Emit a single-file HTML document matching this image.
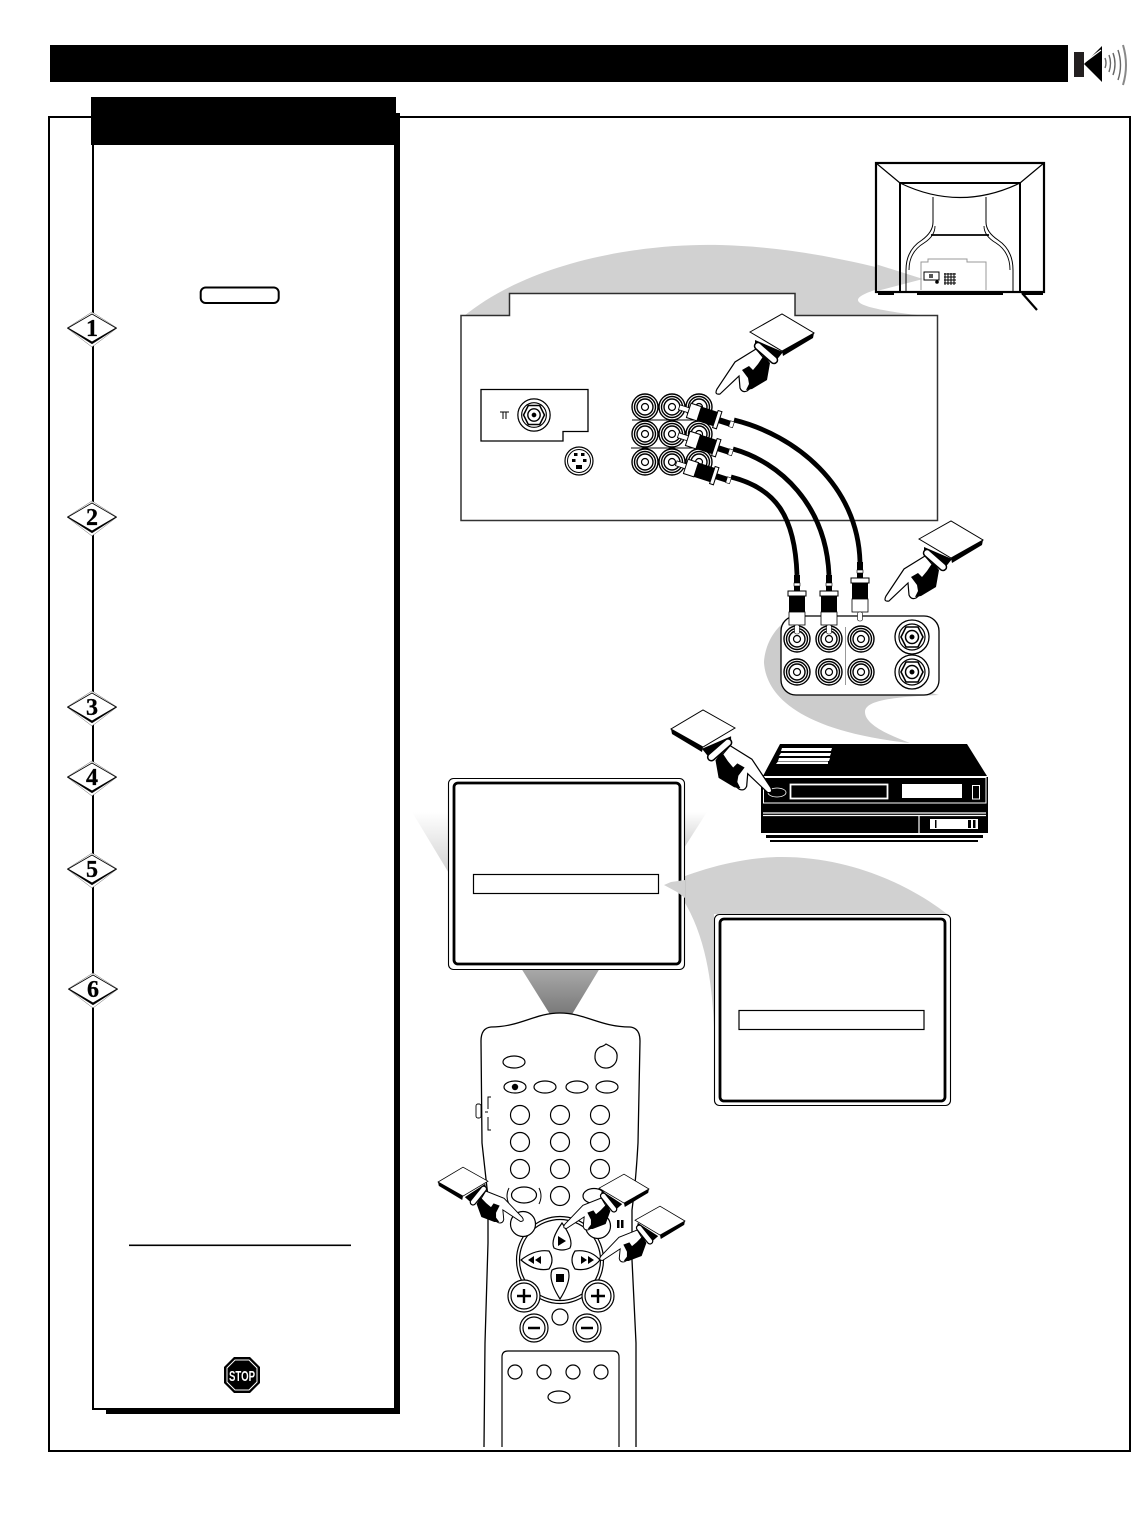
<!DOCTYPE html>
<html><head><meta charset="utf-8"><style>html,body{margin:0;padding:0;background:#fff}svg{display:block}</style></head><body>
<svg xmlns="http://www.w3.org/2000/svg" width="1134" height="1537" viewBox="0 0 1134 1537">
<defs>
<linearGradient id="g1" x1="0" y1="0" x2="0" y2="1"><stop offset="0" stop-color="#fff"/><stop offset="1" stop-color="#d0d0d0"/></linearGradient>
<linearGradient id="g2" x1="0" y1="0" x2="0" y2="1"><stop offset="0" stop-color="#aaa"/><stop offset="1" stop-color="#777"/></linearGradient>
<g id="card"><path d="M0 18L32 0L31 5L1 23Z" fill="#000"/><path d="M-32-1L0-19L32 0L0 18Z" fill="#fff" stroke="#000" stroke-width="1"/></g>
<g id="hand">
<path d="M-27 7L1 19L-7 29L-27 14Z" fill="#000"/>
<path d="M-26 16L-47 29L-65 56Q-68 62-62 61L-43 43L-42 55Q-40 60-35 58L-20 46L-14 30Z" fill="#fff" stroke="#000" stroke-width="1.200"/>
<path d="M-18 22L-12 30L-15 47L-30 56L-36 57L-33 51L-34 45L-40 37L-33 33L-29 37L-24 31Z" fill="#000"/>
<path d="M-24 13L-8 27" stroke="#000" stroke-width="8.500" stroke-linecap="round"/>
<path d="M-24 13L-8 27" stroke="#fff" stroke-width="5.500" stroke-linecap="round"/>
</g>
<g id="rca" fill="#fff" stroke="#000"><circle r="13" stroke-width="1.400"/><circle r="10.500" stroke-width="1.400"/><circle r="8" stroke-width="1.400"/><circle r="3.500" stroke-width="1.200"/></g>
<g id="coax" fill="#fff" stroke="#000"><circle r="17" stroke-width="1.300"/><circle r="13" stroke-width="1.200"/><path d="M-11 0L-6-10H6L11 0L6 10H-6Z" stroke-width="1.600"/><circle r="6.500" stroke-width="1.500"/><circle r="2" fill="#000"/></g>
<g id="vplug"><rect x="-3" y="-17" width="6" height="17" fill="#000"/><rect x="-3" y="-9" width="6" height="3" fill="#fff" stroke="#000" stroke-width=".6"/><rect x="-9" y="-1" width="18" height="5" fill="#fff" stroke="#000"/><rect x="-8" y="4" width="16" height="16" fill="#000"/><rect x="-8" y="20" width="16" height="13" fill="#fff" stroke="#000" stroke-width=".8"/><rect x="-2.500" y="33" width="5" height="9" rx="2" fill="#fff" stroke="#000" stroke-width=".6"/></g>
<g id="dplug"><rect x="-25" y="-2.500" width="11" height="5" fill="#fff" stroke="#000" stroke-width=".8"/><rect x="-15" y="-7.500" width="11" height="15" fill="#fff" stroke="#000"/><rect x="-4" y="-7.500" width="17" height="15" fill="#000"/><rect x="13" y="-9" width="4" height="18" fill="#fff" stroke="#000"/><rect x="17" y="-3" width="11" height="6" fill="#000"/><rect x="28" y="-3" width="4" height="6" fill="#fff" stroke="#000" stroke-width=".6"/></g>
<g id="dia"><path d="M92 312L117 328L92 347L67 328Z" fill="#fff"/><path d="M67 328L92 344L117 328L92 340Z" fill="#000"/><path d="M68 328L92 314L116 328L92 342Z" fill="#fff" stroke="#000" stroke-width=".8"/></g>
</defs>

<rect x="50" y="45" width="1018" height="37" fill="#000"/>
<rect x="1074" y="52" width="10" height="25" fill="#231f20"/>
<path d="M1084 64L1102 46V82Z" fill="#000"/>
<path d="M1085 62L1101 50" stroke="#fff" stroke-width="1.200"/>
<g fill="none" stroke="#666" stroke-width="1.400"><path d="M1105 58q2 5 0 10"/><path d="M1109 55q3 8 0 17"/><path d="M1113 53q4 11 0 22"/><path d="M1118 50q5 15 0 30"/></g>
<path d="M1123 45q6 20 0 40" fill="none" stroke="#888" stroke-width="2"/>

<rect x="49" y="117" width="1081" height="1334" fill="#fff" stroke="#000" stroke-width="2"/>

<!-- left panel -->
<rect x="106" y="113" width="294" height="1301" fill="#000"/>
<rect x="93" y="140" width="302" height="1269" fill="#fff" stroke="#000" stroke-width="2"/>
<rect x="91" y="97" width="305" height="48" fill="#000"/>
<rect x="200.700" y="287.500" width="78" height="15.500" rx="5" fill="#fff" stroke="#000" stroke-width="2"/>
<rect x="129" y="1244.500" width="222" height="1.600" fill="#000"/>
<g font-family="'Liberation Serif',serif" font-weight="700" font-size="24" text-anchor="middle" fill="#000" stroke="#000" stroke-width=".3">
<g><use href="#dia"/><text x="92" y="336">1</text></g>
<g transform="translate(0,189)"><use href="#dia"/><text x="92" y="336">2</text></g>
<g transform="translate(0,379)"><use href="#dia"/><text x="92" y="336">3</text></g>
<g transform="translate(0,449)"><use href="#dia"/><text x="92" y="336">4</text></g>
<g transform="translate(0,541)"><use href="#dia"/><text x="92" y="336">5</text></g>
<g transform="translate(1,661)"><use href="#dia"/><text x="92" y="336">6</text></g>
</g>
<path d="M234 1357H250L260 1367V1383L250 1393H234L224 1383V1367Z" fill="#000"/>
<path d="M235 1360H249L257 1368V1382L249 1390H235L227 1382V1368Z" fill="none" stroke="#fff" stroke-width="1"/>
<text x="242" y="1381" font-family="'Liberation Sans',sans-serif" font-weight="700" font-size="15" text-anchor="middle" fill="#fff" textLength="26" lengthAdjust="spacingAndGlyphs">STOP</text>

<!-- swoosh 1 -->
<path d="M464 316C530 262 640 243 720 245C800 247 870 265 923 279C890 285 858 293 858 300C858 307 890 312 926 316Z" fill="#d1d1d1"/>

<!-- TV -->
<rect x="876" y="163" width="168" height="129" fill="#fff" stroke="#000" stroke-width="2.200"/>
<path d="M877 264.500L923 279L877 291Z" fill="#d1d1d1"/>
<g fill="none" stroke="#000" stroke-width="1.200">
<path d="M876 163L900 183M1044 163L1020 183"/>
<path d="M900 183H1020V291M900 183V291" stroke-width="2"/>
<path d="M900 183Q960 212 1020 183"/>
<path d="M933 197V222Q933 232 922 240Q906 250 906 270V291M986 197V222Q986 232 998 240Q1013 250 1013 270V291" stroke-width="1"/>
<path d="M909 270Q909 252 924 243Q935 236 935 226M1010 270Q1010 252 996 243Q984 236 984 226" stroke-width=".9"/>
<path d="M931 235H989" stroke-width="1.800"/>
</g>
<path d="M921 290V262H928V259H967V262H986V290" fill="none" stroke="#999" stroke-width="1"/>
<rect x="924" y="272" width="15" height="8" fill="#fff" stroke="#000"/>
<rect x="929" y="274" width="4" height="4" fill="#555"/>
<circle cx="937" cy="282" r="1.800" fill="#000"/>
<g stroke="#000" stroke-width="1"><path d="M945 273V285M948 273V285M951 273V285M954 273V285"/><path d="M944 274H956M944 277H956M944 280H956M944 283H956"/></g>
<rect x="878" y="292" width="16" height="3" fill="#000"/><rect x="917" y="292" width="86" height="3" fill="#000"/><rect x="1022" y="292" width="21" height="3" fill="#000"/>
<path d="M1022 293L1037 310" stroke="#000" stroke-width="2.200"/>

<!-- AV panel -->
<path d="M461 315.500H509.500V293.500H795V315.500H937.500V520.500H461Z" fill="#fff" stroke="#000" stroke-width="1.500" stroke-opacity=".8"/>
<path d="M481 389.500H588V431.500H563V441H481Z" fill="#fff" stroke="#000" stroke-width="1.300"/>
<use href="#coax" transform="translate(534,415) scale(.95)"/>
<path d="M500 412H509M503 412V419M506 412V419" stroke="#000" fill="none" stroke-width="1"/>
<ellipse cx="579" cy="461" rx="14" ry="14" fill="#fff" stroke="#000" stroke-width="1.200"/>
<ellipse cx="579" cy="461" rx="11.500" ry="11.500" fill="#fff" stroke="#000" stroke-width="1"/>
<g fill="#000"><rect x="574" y="453" width="3.500" height="3"/><rect x="581" y="453" width="3.500" height="3"/><rect x="572" y="459" width="3.500" height="3"/><rect x="583" y="459" width="3.500" height="3"/><rect x="576" y="465" width="6" height="4"/></g>
<path d="M632 420H695M631 448H693" stroke="#000" stroke-width="1"/>
<use href="#rca" x="645" y="407"/><use href="#rca" x="672" y="407"/><use href="#rca" x="699" y="407"/>
<use href="#rca" x="645" y="434"/><use href="#rca" x="672" y="434"/><use href="#rca" x="699" y="434"/>
<use href="#rca" x="645" y="462"/><use href="#rca" x="672" y="462"/><use href="#rca" x="699" y="462"/>

<!-- cables -->
<g fill="none" stroke="#000" stroke-width="4.800">
<path d="M734 420C795 435 858 485 860 562"/>
<path d="M733 449C780 462 826 505 829 575"/>
<path d="M731 477C775 488 795 515 797 575"/>
</g>
<use href="#dplug" transform="translate(703,415) rotate(18)"/>
<use href="#dplug" transform="translate(702,443) rotate(18)"/>
<use href="#dplug" transform="translate(700,471) rotate(18)"/>

<!-- connector swoosh + panel -->
<path d="M781 625C765 640 764 660 764 663C766 690 790 730 910 743C880 732 865 722 865 712C865 702 885 697 939 695L800 660Z" fill="#ccc"/>
<rect x="781" y="616" width="158" height="79" rx="15" fill="#fff" stroke="#000" stroke-width="1.300"/>
<path d="M845.500 627V685" stroke="#999" stroke-width="1"/>
<use href="#rca" x="797" y="639"/><use href="#rca" x="829" y="639"/><use href="#rca" x="861" y="639"/>
<use href="#rca" x="797" y="672"/><use href="#rca" x="829" y="672"/><use href="#rca" x="861" y="672"/>
<use href="#coax" x="912" y="637"/><use href="#coax" x="912" y="672"/>
<use href="#vplug" transform="translate(797,592)"/>
<use href="#vplug" transform="translate(829,592)"/>
<use href="#vplug" transform="translate(860,579)"/>

<!-- VCR -->
<path d="M780 744H967L987 776H763Z" fill="#000"/>
<rect x="761" y="777" width="227" height="56" fill="#000"/>
<g fill="#fff"><path d="M782 748H832L831 751H781ZM781 753H831L830 756H779ZM779 758H830L829 761H778ZM778 761.500H828L828 764H776Z"/></g>
<path d="M763.500 803V777.500H986V803H763.500Z" fill="none" stroke="#fff" stroke-width="1"/>
<rect x="790.500" y="784.500" width="97" height="14" fill="#000" stroke="#fff" stroke-width="1.800"/>
<rect x="902" y="784" width="60" height="14" fill="#fff"/>
<rect x="972.500" y="785.500" width="7" height="13.500" fill="#000" stroke="#fff" stroke-width="1"/>
<ellipse cx="777" cy="792.500" rx="9" ry="4.500" fill="#000" stroke="#fff" stroke-width=".8"/>
<path d="M763 813H986M763 815.500H986M919 816V833" stroke="#fff" stroke-width="1.200"/>
<rect x="930" y="819" width="48" height="10" fill="#fff"/>
<rect x="935" y="820" width="1.500" height="8" fill="#000"/><rect x="968" y="820" width="3" height="8" fill="#000"/><rect x="973" y="820" width="2.500" height="8" fill="#000"/>
<rect x="766" y="835" width="217" height="3" fill="#000"/><rect x="770" y="840" width="208" height="2" fill="#000"/>

<!-- hands big -->
<g transform="translate(951,540)"><use href="#hand"/><use href="#card"/></g>
<g transform="translate(782,333)"><use href="#hand"/><use href="#card"/></g>
<g transform="translate(703,729) scale(-1.040,1.040)"><use href="#hand"/></g>
<g transform="translate(703,729) scale(-1,1)"><use href="#card"/></g>

<!-- screen gradients -->
<path d="M412 812H450V875Z" fill="url(#g1)"/>
<path d="M707 812H684V848Z" fill="url(#g1)"/>
<path d="M521 968H600L571 1016H551Z" fill="url(#g2)"/>

<!-- swoosh 3 -->
<path d="M664 885C700 868 745 857 782 857C850 857 910 885 947 914H714V1027C712 980 705 930 678 892Z" fill="#d1d1d1"/>

<!-- screens -->
<rect x="448.500" y="778.500" width="236" height="191" rx="5" fill="#fff" stroke="#000" stroke-width="1.100"/>
<rect x="454" y="783" width="226" height="181" rx="4" fill="none" stroke="#000" stroke-width="2.800"/>
<rect x="473.500" y="874.500" width="185" height="19" fill="#fff" stroke="#000" stroke-width="1.200"/>
<path d="M664 885L671 882L685 880V898L677 892Z" fill="#d1d1d1"/>
<rect x="714.500" y="914.500" width="236" height="191" rx="5" fill="#fff" stroke="#000" stroke-width="1.100"/>
<rect x="720" y="919" width="225" height="182" rx="4" fill="none" stroke="#000" stroke-width="2.800"/>
<rect x="739" y="1010.500" width="185" height="19" fill="#fff" stroke="#000" stroke-width="1.200"/>

<!-- remote -->
<path d="M484 1447L485 1343L488 1243V1197L482 1143L481 1041Q481 1028 491 1027C520 1027 535 1013 560 1013C585 1013 600 1027 630 1027Q640 1028 640 1041L638 1143Q636 1180 632 1210V1260L636 1343L636 1447" fill="#fff" stroke="#000" stroke-width="1.300"/>
<path d="M502 1447V1357Q502 1351 508 1351H613Q619 1351 619 1357V1447" fill="#fff" stroke="#000" stroke-width="1.200"/>
<rect x="476" y="1104" width="5" height="14" rx="2" fill="#fff" stroke="#000" stroke-width=".9"/>
<path d="M491 1097H488V1109M485 1112H488M488 1117V1130H491" fill="none" stroke="#000" stroke-width="1"/>
<g fill="#fff" stroke="#000" stroke-width="1.200">
<ellipse cx="514" cy="1062" rx="11" ry="6"/>
<path d="M606 1044Q610 1046 613 1048Q618 1052 617 1058A11 11 0 1 1 595 1056Q595 1050 600 1047Q604 1046 606 1044Z"/>
<ellipse cx="515" cy="1087" rx="11" ry="6"/><ellipse cx="545" cy="1087" rx="11" ry="6"/><ellipse cx="577" cy="1087" rx="11" ry="6"/><ellipse cx="607" cy="1087" rx="11" ry="6"/>
<circle cx="520" cy="1115" r="9.500"/><circle cx="560" cy="1115" r="9.500"/><circle cx="600" cy="1115" r="9.500"/>
<circle cx="520" cy="1142" r="9.500"/><circle cx="560" cy="1142" r="9.500"/><circle cx="600" cy="1142" r="9.500"/>
<circle cx="520" cy="1169" r="9.500"/><circle cx="560" cy="1169" r="9.500"/><circle cx="600" cy="1169" r="9.500"/>
<ellipse cx="524" cy="1195" rx="12.500" ry="8"/>
<circle cx="560" cy="1196" r="9.500"/>
<ellipse cx="594" cy="1196" rx="11" ry="7.500"/>
<circle cx="560" cy="1260" r="43.500"/><circle cx="560" cy="1260" r="40.500"/>
<circle cx="523" cy="1224" r="12.500"/><circle cx="598" cy="1226" r="12.500"/>
<path d="M562 1223Q574 1240 570 1248Q562 1252 554 1248Q550 1240 562 1223Z"/>
<path d="M521 1260Q535 1249 549 1251Q555 1260 549 1269Q535 1272 521 1260Z"/>
<path d="M600 1260Q590 1249 575 1251Q569 1260 575 1269Q590 1272 600 1260Z"/>
<path d="M560 1299Q548 1280 552 1270Q560 1266 568 1270Q572 1280 560 1299Z"/>
<circle cx="524" cy="1296" r="16"/><circle cx="524" cy="1296" r="13"/>
<circle cx="598" cy="1296" r="16"/><circle cx="598" cy="1296" r="13"/>
<circle cx="560" cy="1317" r="8"/>
<circle cx="534" cy="1328" r="14"/><circle cx="534" cy="1328" r="11"/>
<circle cx="587" cy="1328" r="14"/><circle cx="587" cy="1328" r="11"/>
<circle cx="515" cy="1372" r="7"/><circle cx="544" cy="1372" r="7"/><circle cx="573" cy="1372" r="7"/><circle cx="601" cy="1372" r="7"/>
<ellipse cx="559" cy="1397" rx="11" ry="6"/>
</g>
<path d="M509 1188Q505 1196 509 1204M539 1188Q543 1196 539 1204" fill="none" stroke="#000" stroke-width="1"/>
<circle cx="515" cy="1087" r="3.200" fill="#000"/>
<rect x="617" y="1220" width="2.500" height="8" fill="#000"/><rect x="621" y="1220" width="2.500" height="8" fill="#000"/>
<path d="M558 1236L566 1241L558 1246Z" fill="#000"/>
<path d="M534 1256V1264L528 1260ZM541 1256V1264L535 1260Z" fill="#000"/>
<path d="M581 1256V1264L587 1260ZM588 1256V1264L594 1260Z" fill="#000"/>
<rect x="556" y="1274" width="8" height="8" fill="#000"/>
<path d="M524 1289V1303M517 1296H531M598 1289V1303M591 1296H605" stroke="#000" stroke-width="2.400"/>
<path d="M528 1328H540M581 1328H593" stroke="#000" stroke-width="2.400"/>

<!-- remote hands -->
<g transform="translate(463,1182) rotate(-10) scale(-.8,.8)"><use href="#hand"/></g>
<g transform="translate(463,1182) scale(-.78,.78)"><use href="#card"/></g>
<g transform="translate(624,1189) rotate(10) scale(.8,.8)"><use href="#hand"/></g>
<g transform="translate(624,1189) scale(.78,.78)"><use href="#card"/></g>
<g transform="translate(660,1221) rotate(10) scale(.8,.8)"><use href="#hand"/></g>
<g transform="translate(660,1221) scale(.78,.78)"><use href="#card"/></g>
</svg>
</body></html>
